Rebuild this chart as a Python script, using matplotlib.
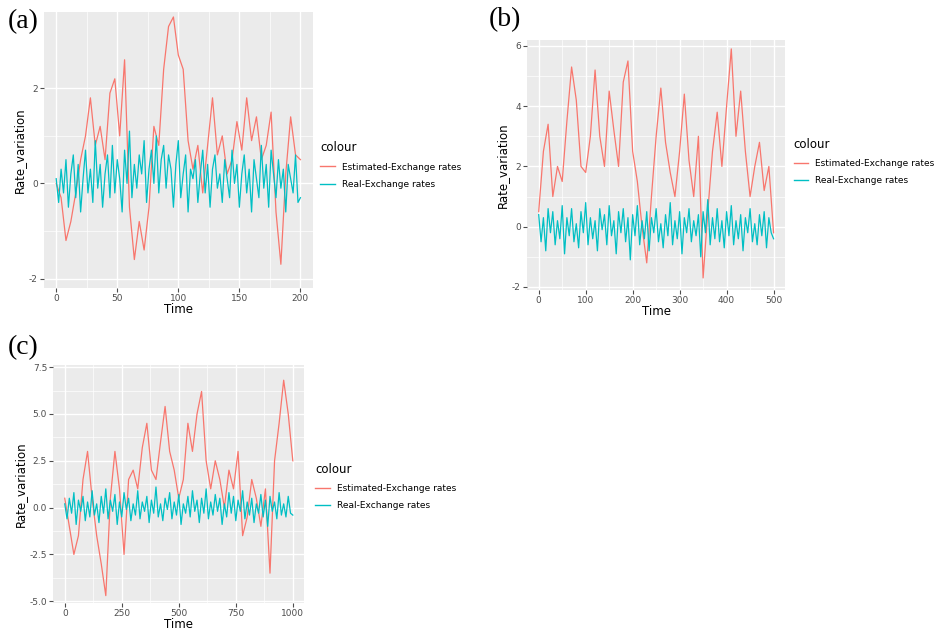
import numpy as np
import matplotlib.pyplot as plt
from matplotlib.lines import Line2D

RED = "#F8766D"
CYAN = "#00BFC4"

# panel (a): 0..200
est_a = [0, -0.3, -1.2, -0.8, -0.2, 0.5, 1.0, 1.8, 0.8, 1.2, 0.5, 1.9, 2.2, 1.0, 2.6, -0.5, -1.6,
         -0.8, -1.4, -0.5, 1.2, 0.8, 2.4, 3.3, 3.5, 2.7, 2.4, 0.9, 0.3, 0.8, -0.2, 0.8, 1.8, 0.6,
         1.0, 0.2, 0.5, 1.3, 0.7, 1.8, 0.9, 1.4, 0.5, 0.8, 1.5, -0.6, -1.7, 0.2, 1.4, 0.6, 0.5]
real_a = [0.1, -0.4, 0.3, -0.2, 0.5, -0.5, 0.2, 0.6, -0.3, 0.4, -0.6, 0.1, 0.7, -0.2, 0.3, -0.4,
          0.9, -0.1, 0.4, -0.5, 0.2, 0.6, -0.3, 0.8, -0.2, 0.5, 0.1, -0.6, 0.7, 0.0, 1.1, -0.3,
          0.4, -0.1, 0.6, 0.2, 0.9, -0.4, 0.3, 0.7, 0.0, 1.0, -0.2, 0.5, 0.8, -0.1, 0.6, 0.3,
          -0.5, 0.4, 0.9, -0.3, 0.2, 0.6, -0.6, 0.3, 0.1, 0.5, -0.4, 0.2, 0.7, -0.2, 0.4, -0.5,
          0.3, 0.6, -0.1, 0.2, -0.4, 0.5, 0.1, -0.3, 0.7, 0.0, 0.4, -0.5, 0.2, 0.6, -0.2, 0.3,
          -0.6, 0.5, 0.1, -0.3, 0.8, -0.1, 0.4, -0.5, 0.7, 0.2, -0.3, 0.5, -0.1, 0.3, -0.6, 0.4,
          0.1, -0.2, 0.6, -0.4, -0.3]

# panel (b): 0..500
est_b = [0.5, 2.5, 3.4, 1.0, 2.0, 1.5, 3.5, 5.3, 4.2, 2.0, 1.8, 3.0, 5.2, 3.0, 2.0, 4.5, 3.2,
         2.0, 4.8, 5.5, 2.5, 1.5, 0.0, -1.2, 1.0, 3.0, 4.6, 2.8, 1.8, 1.0, 2.5, 4.4, 2.2, 1.0,
         3.0, -1.7, 0.5, 2.5, 3.8, 2.0, 4.0, 5.9, 3.0, 4.5, 2.5, 1.0, 2.0, 2.8, 1.2, 2.0, -0.2]
real_b = [0.4, -0.5, 0.3, -0.8, 0.6, -0.2, 0.5, -0.6, 0.2, -0.4, 0.7, -0.9, 0.3, -0.3, 0.6, -0.5,
          0.1, -0.7, 0.5, -0.2, 0.8, -0.6, 0.3, -0.4, 0.2, -0.8, 0.6, -0.1, 0.4, -0.6, 0.7, -0.3,
          0.2, -0.9, 0.5, -0.2, 0.6, -0.5, 0.3, -1.1, 0.4, -0.3, 0.7, -0.6, 0.2, -0.4, 0.5, -0.8,
          0.3, -0.2, 0.6, -0.5, 0.1, -0.7, 0.4, -0.3, 0.8, -0.6, 0.2, -0.4, 0.5, -0.9, 0.3, -0.2,
          0.6, -0.5, 0.2, -0.3, 0.4, -1.0, 0.5, -0.2, 0.9, -0.6, 0.3, -0.4, 0.6, -0.5, 0.2, -0.7,
          0.5, -0.3, 0.7, -0.6, 0.2, -0.4, 0.4, -0.8, 0.3, -0.2, 0.6, -0.5, 0.1, -0.6, 0.4, -0.3,
          0.5, -0.7, 0.3, -0.2, -0.4]

# panel (c): 0..1000
est_c = [0.5, -1.0, -2.5, -1.5, 1.5, 3.0, 0.5, -1.5, -3.0, -4.7, 0.5, 3.0, 1.0, -2.5, 1.5, 2.0,
         1.0, 3.2, 4.5, 2.0, 1.5, 3.5, 5.4, 3.0, 2.0, 0.5, 1.5, 4.5, 3.0, 5.0, 6.2, 2.5, 1.0,
         2.5, 1.5, 0.0, 2.0, 1.0, 3.0, -1.5, -0.5, 1.5, 0.5, -1.0, 1.0, -3.5, 2.5, 4.5, 6.8, 5.0, 2.5]
real_c = [0.2, -0.6, 0.5, -0.3, 0.8, -0.9, 0.4, -0.2, 0.6, -0.7, 0.3, -0.5, 0.9, -0.4, 0.2, -0.8,
          0.6, -0.3, 1.0, -0.6, 0.4, -0.2, 0.7, -0.9, 0.3, -0.5, 0.8, -0.1, 0.5, -0.7, 0.2, -0.4,
          0.9, -0.6, 0.3, -0.2, 0.6, -0.8, 0.4, -0.3, 1.1, -0.5, 0.2, -0.7, 0.5, -0.1, 0.8, -0.6,
          0.3, -0.4, 0.7, -0.9, 0.2, -0.3, 0.6, -0.5, 0.9, -0.2, 0.4, -0.8, 0.5, -0.3, 1.0, -0.6,
          0.3, -0.4, 0.7, -0.2, 0.5, -0.9, 0.2, -0.5, 0.8, -0.3, 0.6, -0.7, 0.4, -0.2, 0.9, -0.6,
          0.3, -0.4, 0.5, -0.8, 0.2, -0.3, 0.7, -0.5, 0.4, -1.0, 0.6, -0.2, 0.3, -0.6, 0.8, -0.4,
          0.2, -0.5, 0.6, -0.3, -0.4]

labels = ["Estimated-Exchange rates", "Real-Exchange rates"]

panels = [
    ("(a)", [0.047, 0.552, 0.287, 0.429], 200, est_a, real_a, (-10, 210), (-2.2, 3.6),
     [0, 50, 100, 150, 200], [-2, 0, 2], ["-2", "0", "2"], (0.008, 0.966), (0.342, 0.78)),
    ("(b)", [0.563, 0.549, 0.276, 0.389], 500, est_b, real_b, (-25, 525), (-2.1, 6.2),
     [0, 100, 200, 300, 400, 500], [-2, 0, 2, 4, 6], ["-2", "0", "2", "4", "6"],
     (0.522, 0.969), (0.848, 0.785)),
    ("(c)", [0.057, 0.062, 0.268, 0.37], 1000, est_c, real_c, (-50, 1050), (-5.1, 7.6),
     [0, 250, 500, 750, 1000], [-5, -2.5, 0, 2.5, 5, 7.5],
     ["-5.0", "-2.5", "0.0", "2.5", "5.0", "7.5"], (0.008, 0.46), (0.337, 0.28)),
]

fig = plt.figure(figsize=(9.36, 6.43), dpi=100)
for tag, rect, n, est, real, xl, yl, xt, yt, ytl, tagpos, legpos in panels:
    ax = fig.add_axes(rect)
    ax.set_facecolor("#EBEBEB")
    ax.set_axisbelow(True)
    ax.plot(np.linspace(0, n, len(est)), est, color=RED, lw=0.9)
    ax.plot(np.linspace(0, n, len(real)), real, color=CYAN, lw=0.9)
    ax.set_xlim(xl)
    ax.set_ylim(yl)
    ax.set_xticks(xt)
    ax.set_yticks(yt)
    ax.set_yticklabels(ytl)
    ax.set_xticks([(a + b) / 2 for a, b in zip(xt[:-1], xt[1:])], minor=True)
    ax.set_yticks([(a + b) / 2 for a, b in zip(yt[:-1], yt[1:])], minor=True)
    ax.grid(which="major", color="white", lw=1.0)
    ax.grid(which="minor", color="white", lw=0.5)
    for s in ax.spines.values():
        s.set_visible(False)
    ax.tick_params(which="major", labelsize=6.5, colors="#4D4D4D", length=3, labelcolor="#4D4D4D", pad=1.5)
    ax.tick_params(which="minor", length=0)
    ax.set_xlabel("Time", fontsize=8.5, labelpad=0)
    ax.set_ylabel("Rate_variation", fontsize=8.5, labelpad=2)
    fig.text(tagpos[0], tagpos[1], tag, fontsize=20, family="Liberation Serif", va="center")
    handles = [Line2D([], [], color=RED, lw=1), Line2D([], [], color=CYAN, lw=1)]
    leg = fig.legend(handles, labels, title="colour", loc="upper left", bbox_to_anchor=legpos,
                     frameon=False, fontsize=6.5, title_fontsize=8.5, handlelength=1.6,
                     labelspacing=0.9, borderaxespad=0, borderpad=0)
    leg._legend_box.align = "left"

fig.savefig("out.png")
